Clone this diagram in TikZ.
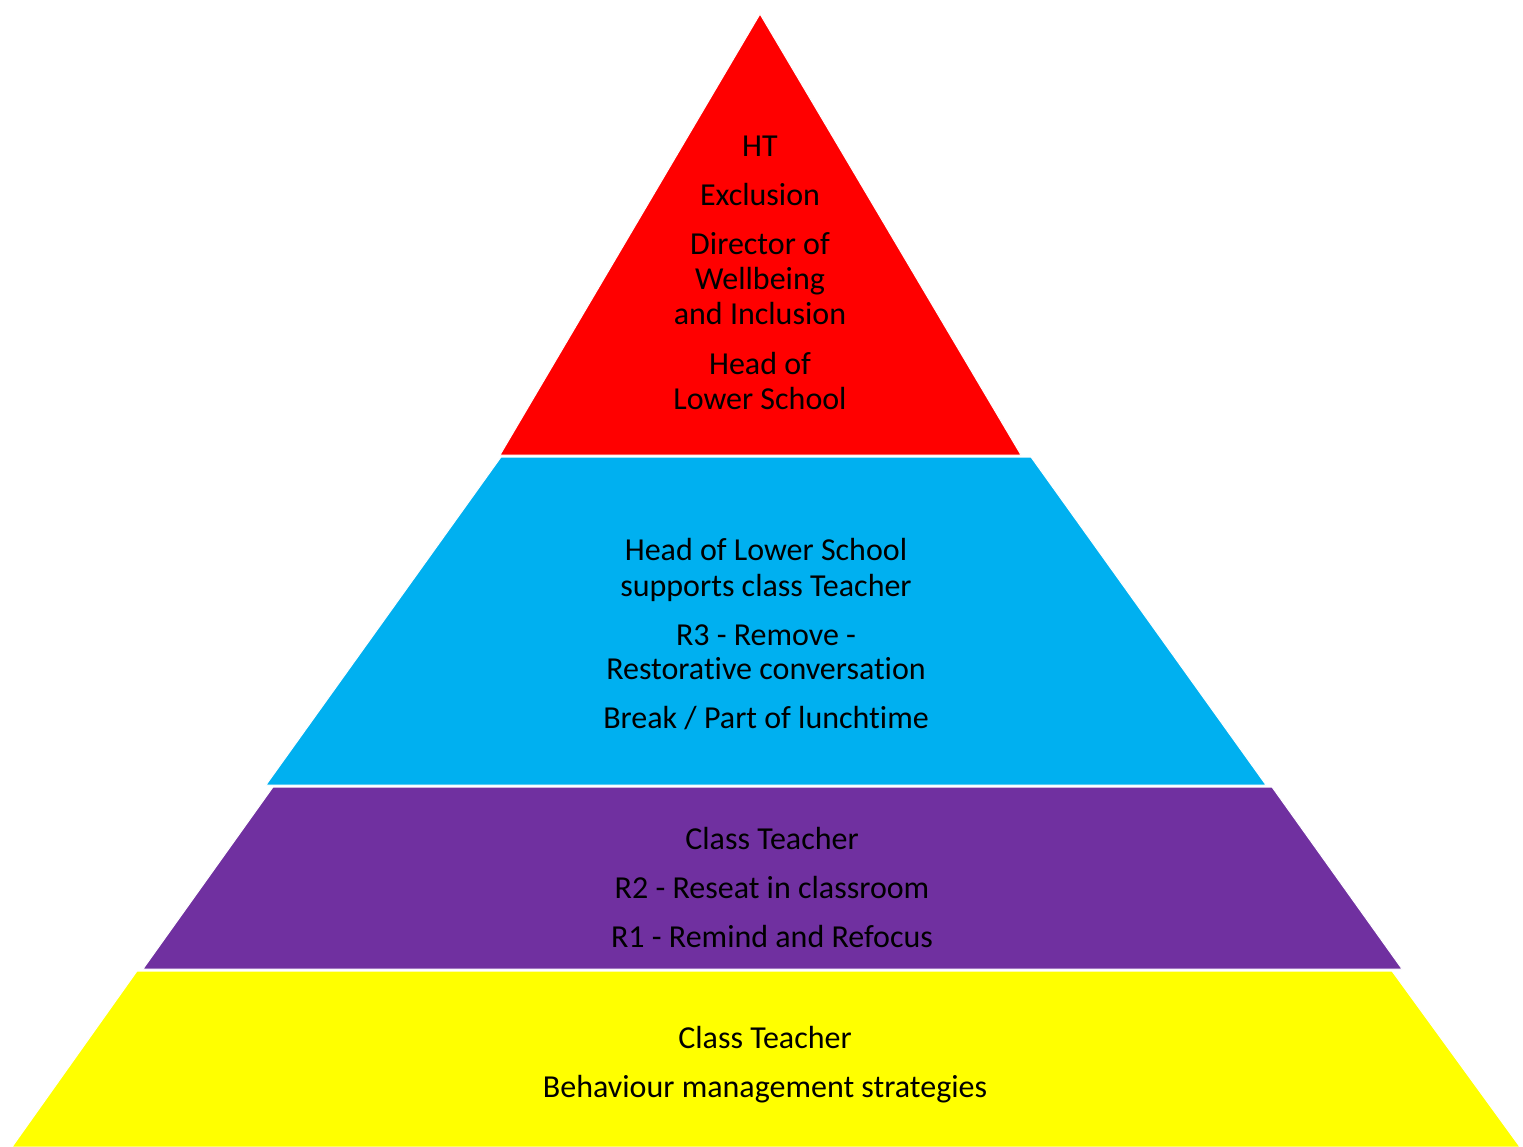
\documentclass[tikz,border=0pt]{standalone}
\usepackage{fontspec}
\setmainfont{Carlito}[Ligatures=NoCommon]
\definecolor{tierred}{HTML}{FF0000}
\definecolor{tierblue}{HTML}{00B0F0}
\definecolor{tierpurple}{HTML}{7030A0}
\definecolor{tieryellow}{HTML}{FFFF00}
\begin{document}
\begin{tikzpicture}[x=1pt,y=-1pt,
  tier/.style={draw=white, line width=1pt, line join=miter},
  lbl/.style={anchor=base, inner sep=0pt, font=\fontsize{32}{38}\selectfont, text=black}]
\useasboundingbox (0,0) rectangle (1523,1147);
% pyramid tiers, top to bottom
\fill[tierred, tier] (760,14) -- (1021,455) -- (500,455) -- cycle;
\fill[tierblue, tier] (501,457) -- (1031,457) -- (1266,785) -- (266,785) -- cycle;
\fill[tierpurple, tier] (273,787) -- (1272,787) -- (1402,969) -- (143,969) -- cycle;
\fill[tieryellow, tier] (137,971) -- (1392,971) -- (1520,1147) -- (12,1147) -- cycle;
% top tier
\node[lbl] (ht) at (760,157) {HT};
\node[lbl] (excl) at (760,206) {Exclusion};
\node[lbl] (dir1) at (760,255) {Director of};
\node[lbl] (dir2) at (760,290) {Wellbeing};
\node[lbl] (dir3) at (760,325) {and Inclusion};
\node[lbl] (hls1) at (760,374) {Head of};
\node[lbl] (hls2) at (760,409) {Lower School};
% second tier
\node[lbl] (sup1) at (766,560) {Head of Lower School};
\node[lbl] (sup2) at (766,596) {supports class Teacher};
\node[lbl] (r3a) at (766,645) {R3 - Remove -};
\node[lbl] (r3b) at (766,679) {Restorative conversation};
\node[lbl] (brk) at (766,728) {Break / Part of lunchtime};
% third tier
\node[lbl] (ct1) at (772,849) {Class Teacher};
\node[lbl] (r2) at (772,898) {R2 - Reseat in classroom};
\node[lbl] (r1) at (772,947) {R1 - Remind and Refocus};
% base tier
\node[lbl] (ct2) at (765,1048) {Class Teacher};
\node[lbl] (bms) at (765,1097) {Behaviour management strategies};
\end{tikzpicture}
\end{document}
